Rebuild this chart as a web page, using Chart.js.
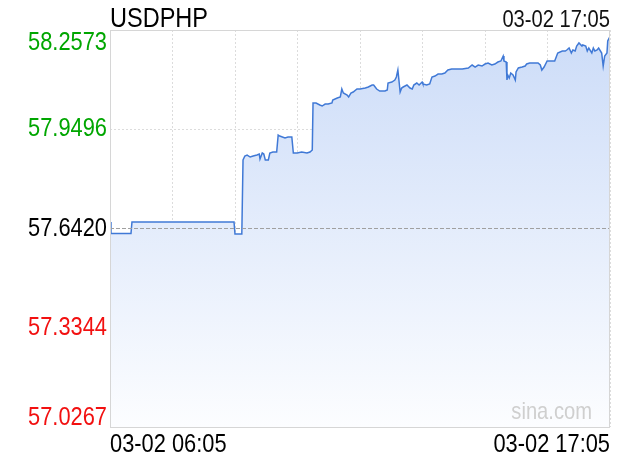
<!DOCTYPE html>
<html>
<head>
<meta charset="utf-8">
<script src="https://cdn.jsdelivr.net/npm/chart.js@4/dist/chart.umd.min.js"></script>
<style>
html,body{margin:0;padding:0;background:#fff;}
#wrap{width:620px;height:460px;position:relative;}
</style>
</head>
<body>
<div id="wrap"><canvas id="c" width="620" height="460"></canvas></div>
<script>
const symbol = "USDPHP";
const timeLabels = ["03-02 06:05", "03-02 17:05"];
const headerTime = "03-02 17:05";
const prevClose = 57.6420;
const yTicks = [58.2573, 57.9496, 57.6420, 57.3344, 57.0267];
// minutes after 06:05
const minutes = [0,1.3,27.7,29,163.7,165,174,175.6,178,181,
185,189,194,197,198,201,203,205,209,211,
215,220,222,224,231,235,240,242,247,253,
260,264,267,268,272,277,280,284,288,293,
294,300,304,306,308,313,315,318,321,326,
330,337,341,346,348,352,356,363,366,367,
372,376,378,380,383,385,387,392,396,399,
401,405,408,412,413,418,422,425,429,433,
438,442,446,451,458,465,473,478,482,486,
491,495,499,504,508,512,516,519,520,523,
524,525,527,529,532,535,536,539,544,548,
550,554,561,565,568,570,573,577,581,587,
591,597,601,603,606,609,611,614,616,619,
623,624,628,630,632,636,638,640,643,645,
649,651,653,656,657,659,660];
const prices = [57.6621,57.6264,57.6264,57.6621,57.6621,57.6249,57.6249,57.8543,57.8667,57.8698,
57.8636,57.8667,57.8698,57.8729,57.8574,57.8760,57.8729,57.8543,57.8543,57.8760,
57.8791,57.8791,57.9318,57.9287,57.9225,57.9256,57.9256,57.8760,57.8760,57.8791,
57.8760,57.8791,57.8853,58.0310,58.0310,58.0248,58.0217,58.0279,58.0279,58.0310,
58.0403,58.0465,58.0496,58.0744,58.0620,58.0558,58.0496,58.0620,58.0651,58.0744,
58.0744,58.0775,58.0806,58.0868,58.0868,58.0744,58.0682,58.0682,58.0713,58.0930,
58.0961,58.1023,58.1116,58.1333,58.0651,58.0775,58.0806,58.0868,58.0775,58.0744,
58.0868,58.0930,58.0868,58.0961,58.0899,58.0868,58.0899,58.1116,58.1147,58.1209,
58.1209,58.1240,58.1333,58.1364,58.1364,58.1364,58.1395,58.1488,58.1426,58.1488,
58.1457,58.1519,58.1550,58.1488,58.1519,58.1581,58.1612,58.1767,58.1612,58.1581,
58.1023,58.1178,58.1085,58.1240,58.1178,58.1023,58.1271,58.1395,58.1426,58.1457,
58.1519,58.1550,58.1550,58.1550,58.1488,58.1333,58.1426,58.1612,58.1612,58.1612,
58.1860,58.1922,58.1922,58.1953,58.2015,58.1860,58.1953,58.1922,58.2077,58.2170,
58.2077,58.2108,58.2077,58.1922,58.2015,58.1860,58.2015,58.1922,58.1953,58.2015,
58.1860,58.1457,58.1767,58.1860,58.2232,58.2325,58.2356];
const totalMinutes = 660;
const xGridCount = 8;

const FONT = "'Liberation Sans', Arial, sans-serif";
const SQUEEZE = 0.84;
Chart.defaults.font.family = FONT;

const points = minutes.map((m, i) => ({x: m, y: prices[i]}));

function squeezedText(ctx, text, x, y) {
  ctx.save();
  ctx.translate(x, y);
  ctx.scale(SQUEEZE, 1);
  ctx.fillText(text, 0, 0);
  ctx.restore();
}

const decor = {
  id: 'decor',
  beforeDraw(chart) {
    const {ctx} = chart;
    ctx.save();
    ctx.fillStyle = '#fff';
    ctx.fillRect(0, 0, chart.width, chart.height);
    ctx.restore();
  },
  afterDatasetsDraw(chart) {
    const {ctx, chartArea: a, scales} = chart;
    const y = scales.y;
    ctx.save();
    const py = Math.round(y.getPixelForValue(prevClose)) + 0.5;
    ctx.strokeStyle = '#a0a0a0';
    ctx.lineWidth = 1;
    ctx.setLineDash([4, 2]);
    ctx.beginPath();
    ctx.moveTo(a.left, py);
    ctx.lineTo(a.right, py);
    ctx.stroke();
    ctx.setLineDash([]);
    ctx.strokeStyle = '#d6d6d6';
    ctx.strokeRect(Math.round(a.left) + 0.5, Math.round(a.top) + 0.5, Math.round(a.right - a.left) - 1, Math.round(a.bottom - a.top));
    ctx.restore();
  },
  afterDraw(chart) {
    const {ctx, chartArea: a, scales} = chart;
    const y = scales.y;
    ctx.save();
    ctx.font = "26px " + FONT;
    ctx.textAlign = 'right';
    yTicks.forEach((v, i) => {
      let py = y.getPixelForValue(v);
      ctx.fillStyle = v > prevClose + 1e-6 ? '#00a600' : (v < prevClose - 1e-6 ? '#f21010' : '#000');
      if (i === 0) { ctx.textBaseline = 'top'; py = a.top + 0; }
      else if (i === yTicks.length - 1) { ctx.textBaseline = 'bottom'; py = a.bottom + 4; }
      else { ctx.textBaseline = 'middle'; }
      squeezedText(ctx, v.toFixed(4), a.left - 3, py);
    });
    ctx.fillStyle = '#000';
    ctx.textBaseline = 'alphabetic';
    ctx.font = "26px " + FONT;
    ctx.textAlign = 'left';
    squeezedText(ctx, timeLabels[0], a.left, 452);
    ctx.textAlign = 'right';
    squeezedText(ctx, timeLabels[1], a.right, 452);
    ctx.textAlign = 'left';
    ctx.font = "28px " + FONT;
    squeezedText(ctx, symbol, a.left, 27);
    ctx.textAlign = 'right';
    ctx.font = "24px " + FONT;
    ctx.fillStyle = '#111';
    squeezedText(ctx, headerTime, a.right, 27);
    ctx.font = "24px " + FONT;
    ctx.fillStyle = '#cfcfcf';
    ctx.textAlign = 'right';
    squeezedText(ctx, 'sina.com', a.right - 18, a.bottom - 8);
    ctx.restore();
  }
};

new Chart(document.getElementById('c'), {
  type: 'line',
  data: {
    datasets: [{
      data: points,
      borderColor: '#4079d6',
      borderWidth: 1.5,
      pointRadius: 0,
      tension: 0,
      fill: 'start',
      backgroundColor(ctx) {
        const ch = ctx.chart;
        const a = ch.chartArea;
        if (!a) return 'rgba(210,225,248,1)';
        const g = ch.ctx.createLinearGradient(0, a.top, 0, a.bottom);
        g.addColorStop(0, 'rgba(204,220,248,1)');
        g.addColorStop(1, 'rgba(252,253,255,1)');
        return g;
      }
    }]
  },
  options: {
    responsive: false,
    animation: false,
    devicePixelRatio: 1,
    layout: {padding: {top: 30, right: 10, left: 0, bottom: 0}},
    plugins: {legend: {display: false}, tooltip: {enabled: false}},
    scales: {
      x: {
        type: 'linear',
        min: 0, max: totalMinutes,
        afterBuildTicks(scale) {
          const t = [];
          for (let i = 0; i <= xGridCount; i++) t.push({value: totalMinutes * i / xGridCount});
          scale.ticks = t;
        },
        afterFit(scale) { scale.height = 33; },
        grid: {color: '#dcdcdc', drawTicks: false, lineWidth: 1},
        border: {display: false, dash: [2, 2]},
        ticks: {display: false}
      },
      y: {
        type: 'linear',
        min: yTicks[yTicks.length - 1], max: yTicks[0],
        afterBuildTicks(scale) { scale.ticks = yTicks.map(v => ({value: v})); },
        afterFit(scale) { scale.width = 110; },
        grid: {
          drawTicks: false,
          color(ctx) {
            const v = ctx.tick && ctx.tick.value;
            if (v !== undefined && Math.abs(v - prevClose) < 1e-6) return 'rgba(0,0,0,0)';
            return '#dcdcdc';
          }
        },
        border: {display: false, dash: [2, 2]},
        ticks: {display: false}
      }
    }
  },
  plugins: [decor]
});
</script>
</body>
</html>
